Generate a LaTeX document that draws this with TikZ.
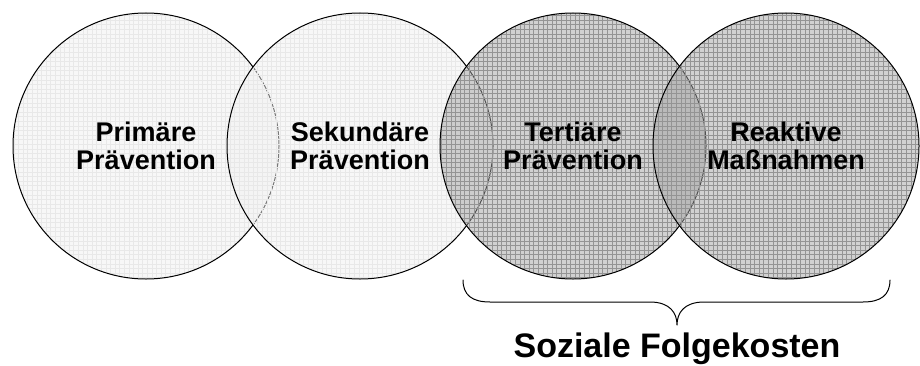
\documentclass[tikz,border=0pt]{standalone}
\usepackage{fontspec}
\newfontfamily\arialfont{Liberation Sans}
\usetikzlibrary{patterns}

\pgfdeclarepatternformonly{finegrid}{\pgfqpoint{-1pt}{-1pt}}{\pgfqpoint{4.6pt}{4.6pt}}{\pgfqpoint{4.6pt}{4.6pt}}{%
  \pgfsetlinewidth{0.5pt}
  \pgfpathmoveto{\pgfqpoint{0pt}{0pt}}\pgfpathlineto{\pgfqpoint{4.6pt}{0pt}}
  \pgfpathmoveto{\pgfqpoint{0pt}{0pt}}\pgfpathlineto{\pgfqpoint{0pt}{4.6pt}}
  \pgfusepath{stroke}}

\tikzset{
  bereich/.style={circle, draw=black, line width=1pt, minimum size=266pt, inner sep=0pt,
    align=center, font=\arialfont\bfseries\fontsize{27}{28}\selectfont,
    fill opacity=0.5, text opacity=1},
  hellkreis/.style={bereich, preaction={fill=black!6, fill opacity=0.5},
    pattern=finegrid, pattern color=black!9},
  dunkelkreis/.style={bereich, preaction={fill=black!36, fill opacity=0.5},
    pattern=finegrid, pattern color=black!42},
  klammer/.style={line width=1pt, line cap=round, line join=round},
}

\begin{document}
\begin{tikzpicture}[x=1pt, y=1pt]
	%%%%% START %%%%%
	\useasboundingbox (0, 0) rectangle (920, 365);
	
	\node[hellkreis] (primaer) at (146, 219) {Primäre\\Prävention};
	\node[hellkreis] (sekundaer) at (360, 219) {Sekundäre\\Prävention};
	\node[dunkelkreis] (tertiaer) at (573, 219) {Tertiäre\\Prävention};
	\node[dunkelkreis] (reaktiv) at (786, 219) {Reaktive\\Maßnahmen};
	
	% geschweifte Klammer unter Kreis 3 und 4
	\coordinate (spitze) at (677, 40);
	\draw[klammer] (463, 85) .. controls (463, 70) and (472, 63) .. (490, 63) -- (650, 63)
		.. controls (670, 63) and (677, 52) .. (spitze)
		.. controls (677, 52) and (684, 63) .. (704, 63) -- (863, 63)
		.. controls (881, 63) and (890, 70) .. (890, 85);
	
	\node[anchor=base, font=\arialfont\bfseries\fontsize{34}{40}\selectfont] (folgekosten) at (677, 8) {Soziale Folgekosten};
	
	%%%%% END %%%%%
\end{tikzpicture}
\end{document}
